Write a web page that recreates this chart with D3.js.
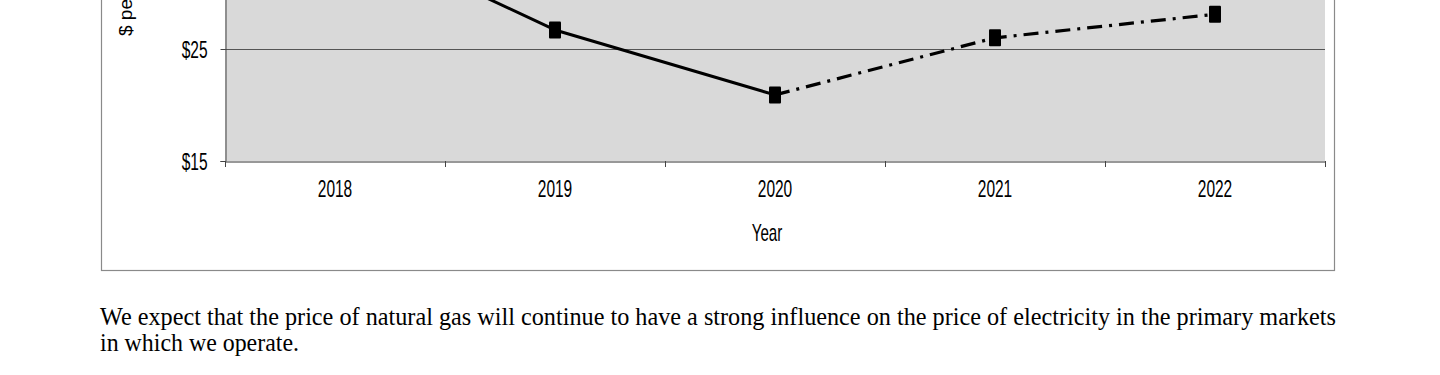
<!DOCTYPE html>
<html>
<head>
<meta charset="utf-8">
<script src="https://cdn.jsdelivr.net/npm/d3@7"></script>
<style>
  html, body { margin: 0; padding: 0; background: #fff; }
  svg { display: block; }
</style>
</head>
<body>
<svg id="chart" width="1440" height="375"></svg>
<script>
// ---- data ----
const years = ["2018", "2019", "2020", "2021", "2022"];
const actualYears = ["2018", "2019", "2020"];
const actualValues = [35.9, 26.7, 20.9];
const forecastYears = ["2020", "2021", "2022"];
const forecastValues = [20.9, 26.0, 28.1];
const yTickValues = [15, 25];
const yTickLabels = ["$15", "$25"];
const yGridValues = [25, 35, 45];
const yLabel = "$ per MWh";
const xLabel = "Year";
const paragraph = [
  "We expect that the price of natural gas will continue to have a strong influence on the price of electricity in the primary markets",
  "in which we operate."
];

// ---- layout ----
const svg = d3.select("#chart");
const plotL = 225, plotR = 1325, plotB = 161;
const sx = 0.66; // horizontal glyph compression of the original Arial text

const x = d3.scaleBand().domain(years).range([plotL, plotR]).paddingInner(0).paddingOuter(0);
const y = d3.scaleLinear().domain([15, 45]).range([plotB, plotB - 30 * 11.2]);
const plotT = y(45);

// outer chart frame
svg.append("rect")
  .attr("x", 101.5).attr("y", plotT - 60)
  .attr("width", 1334 - 101).attr("height", 270.5 - (plotT - 60))
  .attr("fill", "none").attr("stroke", "#8a8a8a").attr("stroke-width", 1.2);

// plot background
svg.append("rect")
  .attr("x", plotL).attr("y", plotT)
  .attr("width", plotR - plotL).attr("height", plotB - plotT)
  .attr("fill", "#d9d9d9");

// gridlines
svg.append("g").selectAll("line")
  .data(yGridValues)
  .join("line")
  .attr("x1", plotL).attr("x2", plotR)
  .attr("y1", d => Math.round(y(d)) + 0.5).attr("y2", d => Math.round(y(d)) + 0.5)
  .attr("stroke", "#555").attr("stroke-width", 1);

// y axis
const yAxis = svg.append("g")
  .attr("transform", `translate(${plotL + 0.5},0)`)
  .call(d3.axisLeft(y).tickValues(yTickValues)
    .tickFormat((d, i) => yTickLabels[i]).tickSize(5).tickPadding(0));
yAxis.select(".domain").attr("stroke", "#444");
yAxis.selectAll(".tick line").attr("stroke", "#444");
yAxis.selectAll(".tick text")
  .attr("x", -18 / sx).attr("dy", "0.36em")
  .attr("transform", `scale(${sx},1)`)
  .attr("font-family", "'Liberation Sans', Arial, sans-serif")
  .attr("font-size", 23.5).attr("fill", "#000");

// x axis labels
const xAxis = svg.append("g")
  .attr("transform", `translate(0,${plotB + 0.5})`)
  .call(d3.axisBottom(x).tickSize(0).tickPadding(0));
xAxis.select(".domain").attr("stroke", "#333").attr("stroke-width", 1.2);
xAxis.selectAll(".tick text")
  .attr("y", 35.5).attr("dy", 0)
  .attr("transform", `scale(${sx},1)`)
  .attr("font-family", "'Liberation Sans', Arial, sans-serif")
  .attr("font-size", 23.5).attr("fill", "#000");

// category boundary ticks
const edges = years.map(d => x(d)).concat([x(years[years.length - 1]) + x.bandwidth()]);
svg.append("g").selectAll("line")
  .data(edges)
  .join("line")
  .attr("x1", d => Math.round(d) + 0.5).attr("x2", d => Math.round(d) + 0.5)
  .attr("y1", plotB).attr("y2", plotB + 6)
  .attr("stroke", "#444").attr("stroke-width", 1);

// axis titles
svg.append("text")
  .attr("transform", `translate(767,241) scale(${sx},1)`)
  .attr("text-anchor", "middle")
  .attr("font-family", "'Liberation Sans', Arial, sans-serif")
  .attr("font-size", 23).attr("fill", "#000")
  .text(xLabel);

svg.append("text")
  .attr("transform", "translate(132,36) rotate(-90)")
  .attr("text-anchor", "start")
  .attr("font-family", "'Liberation Sans', Arial, sans-serif")
  .attr("font-size", 19).attr("fill", "#000")
  .text(yLabel);

// lines
const cx = d => x(d) + x.bandwidth() / 2;
const line = d3.line().x(d => cx(d[0])).y(d => y(d[1]));
const actual = actualYears.map((d, i) => [d, actualValues[i]]);
const forecast = forecastYears.map((d, i) => [d, forecastValues[i]]);

svg.append("path").datum(actual)
  .attr("d", line).attr("fill", "none")
  .attr("stroke", "#000").attr("stroke-width", 3).attr("stroke-linejoin", "round");

svg.append("path").datum(forecast)
  .attr("d", line).attr("fill", "none")
  .attr("stroke", "#000").attr("stroke-width", 3.2)
  .attr("stroke-dasharray", "15,7,3,7");

// markers
const points = actual.concat(forecast.slice(1));
svg.append("g").selectAll("rect")
  .data(points)
  .join("rect")
  .attr("x", d => cx(d[0]) - 6).attr("y", d => y(d[1]) - 8.5)
  .attr("width", 12).attr("height", 17)
  .attr("rx", 1)
  .attr("fill", "#000");

// paragraph below chart
const para = svg.append("g")
  .attr("font-family", "'Liberation Serif', 'Times New Roman', serif")
  .attr("font-size", 25).attr("fill", "#000");
const paraWidths = [1236, 199];
para.selectAll("text")
  .data(paragraph)
  .join("text")
  .attr("x", 100)
  .attr("y", (d, i) => 325 + i * 26)
  .attr("textLength", (d, i) => paraWidths[i])
  .attr("lengthAdjust", "spacingAndGlyphs")
  .text(d => d);
</script>
</body>
</html>
